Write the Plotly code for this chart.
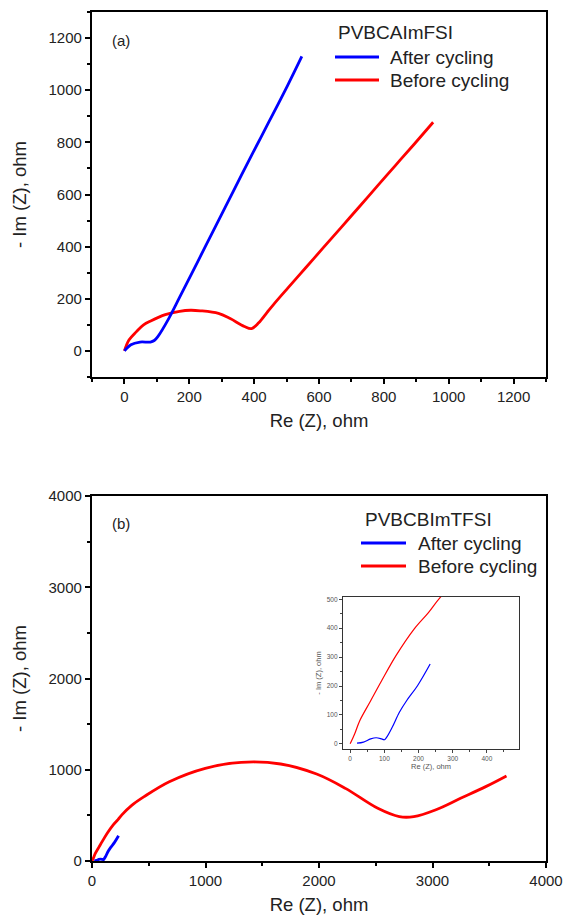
import plotly.graph_objects as go

# Panel (a): PVBCAImFSI Nyquist data (Re Z, -Im Z), ohm
a_after_re = [0, 20, 48, 80, 92, 103, 137, 170, 225, 281, 336, 392, 447, 503, 547]
a_after_im = [0, 24, 34, 34, 40, 55, 125, 205, 340, 478, 613, 750, 882, 1018, 1130]
a_before_re = [0, 14, 37, 59, 81, 126, 170, 204, 234, 290, 326, 370, 392, 414, 440, 459,
               503, 559, 614, 670, 725, 781, 836, 892, 952]
a_before_im = [0, 42, 74, 100, 115, 139, 152, 156, 154, 144, 124, 94, 86, 108, 148, 177,
               240, 319, 397, 476, 554, 634, 712, 791, 877]

# Panel (b): PVBCBImTFSI Nyquist data
b_after_re = [20, 39, 60, 76, 92, 100, 107, 123, 144, 165, 197, 234]
b_after_im = [2, 6, 17, 21, 17, 14, 23, 57, 109, 149, 201, 276]
b_before_re = [0, 13, 28, 60, 92, 134, 187, 229, 263, 350, 459, 681, 998, 1314, 1662, 1979,
               2233, 2518, 2708, 2835, 3025, 3247, 3469, 3652]
b_before_im = [0, 34, 80, 149, 218, 305, 397, 454, 506, 610, 705, 869, 1016, 1081, 1063, 953,
               796, 577, 486, 486, 559, 687, 815, 932]

# Legend content for each panel
series_names = ["After cycling", "Before cycling"]
legend_titles = ["PVBCAImFSI", "PVBCBImTFSI"]
panel_tags = ["(a)", "(b)"]

BLUE = "#0000ff"
RED = "#ff0000"
SERIES_COLORS = [BLUE, RED]
FONT = "Liberation Sans, Arial, sans-serif"
INK = "#222222"
W, H = 564, 918


def px_x(p):
    return p / W


def px_y(p):
    return 1 - p / H


def curve(xs, ys, name, color, width, xa, ya):
    return go.Scatter(
        x=xs, y=ys, mode="lines", name=name, showlegend=False,
        line=dict(color=color, width=width, shape="spline", smoothing=1.0),
        xaxis=xa, yaxis=ya,
    )


fig = go.Figure()

# Panel (a)
fig.add_trace(curve(a_before_re, a_before_im, series_names[1], RED, 2.8, "x", "y"))
fig.add_trace(curve(a_after_re, a_after_im, series_names[0], BLUE, 2.8, "x", "y"))

# Panel (b)
fig.add_trace(curve(b_before_re, b_before_im, series_names[1], RED, 2.8, "x2", "y2"))
fig.add_trace(curve(b_after_re, b_after_im, series_names[0], BLUE, 2.8, "x2", "y2"))

# Inset of panel (b): low-impedance region
fig.add_trace(curve(b_before_re, b_before_im, series_names[1], RED, 1.2, "x3", "y3"))
fig.add_trace(curve(b_after_re, b_after_im, series_names[0], BLUE, 1.2, "x3", "y3"))

tickfont = dict(family=FONT, size=15, color=INK)
titlefont = dict(family=FONT, size=18.5, color=INK)


def main_axis(domain, rng, dtick, minor, title, anchor, standoff):
    return dict(domain=domain, range=rng, dtick=dtick, tick0=0, anchor=anchor,
                automargin=False,
                showline=True, linecolor="black", linewidth=2.2, mirror=True,
                ticks="outside", ticklen=5, tickwidth=1.6, tickcolor="black",
                minor=dict(ticks="outside", dtick=minor, tick0=0, ticklen=3,
                           tickwidth=1.6, tickcolor="black"),
                showgrid=False, zeroline=False, tickfont=tickfont,
                title=dict(text=title, font=titlefont, standoff=standoff))


def inset_axis(domain, rng, dtick, minor, title, anchor, standoff):
    return dict(domain=domain, range=rng, dtick=dtick, tick0=0, anchor=anchor,
                automargin=False,
                showline=True, linecolor="#333", linewidth=1.3, mirror=True,
                ticks="outside", ticklen=3, tickwidth=0.8, tickcolor="#444",
                minor=dict(ticks="outside", dtick=minor, tick0=0, ticklen=2,
                           tickwidth=0.8, tickcolor="#444"),
                showgrid=False, zeroline=False,
                tickfont=dict(family=FONT, size=6.5, color="#555"),
                title=dict(text=title, font=dict(family=FONT, size=7.5, color="#555"),
                           standoff=standoff))


legend_font = dict(family=FONT, size=19, color=INK)

# Legend blocks drawn in page pixels: (title_x, title_y, line_x0, line_x1, text_x, row_ys)
legend_blocks = [
    (336, 33, 335, 379, 388, [57, 80]),
    (363, 519, 361, 406, 416, [543, 566]),
]

annotations = []
shapes = []
for title, (tx, ty, lx0, lx1, txt_x, rows) in zip(legend_titles, legend_blocks):
    annotations.append(dict(text=title, x=px_x(tx), y=px_y(ty), xref="paper", yref="paper",
                            xanchor="left", yanchor="middle", showarrow=False,
                            font=legend_font))
    for name, color, ry in zip(series_names, SERIES_COLORS, rows):
        shapes.append(dict(type="line", xref="paper", yref="paper",
                           x0=px_x(lx0), x1=px_x(lx1), y0=px_y(ry), y1=px_y(ry),
                           line=dict(color=color, width=3)))
        annotations.append(dict(text=name, x=px_x(txt_x), y=px_y(ry), xref="paper",
                                yref="paper", xanchor="left", yanchor="middle",
                                showarrow=False, font=legend_font))

for tag, ty in zip(panel_tags, [40, 523]):
    annotations.append(dict(text=tag, x=px_x(110), y=px_y(ty), xref="paper", yref="paper",
                            xanchor="left", yanchor="middle", showarrow=False,
                            font=dict(family=FONT, size=15, color=INK)))

fig.update_layout(
    width=W, height=H,
    margin=dict(l=0, r=0, t=0, b=0, autoexpand=False),
    paper_bgcolor="white", plot_bgcolor="white",
    showlegend=False,
    xaxis=main_axis([px_x(92), px_x(546)], [-100, 1300], 200, 100, "Re (Z), ohm", "y", 10),
    yaxis=main_axis([px_y(377), px_y(12)], [-100, 1300], 200, 100, "- Im (Z), ohm", "x", 17),
    xaxis2=main_axis([px_x(92), px_x(546)], [0, 4000], 1000, 500, "Re (Z), ohm", "y2", 10),
    yaxis2=main_axis([px_y(861), px_y(496)], [0, 4000], 1000, 500, "- Im (Z), ohm", "x2", 17),
    xaxis3=inset_axis([px_x(343), px_x(519)], [-21, 494], 100, 50, "Re (Z), ohm", "y3", 2),
    yaxis3=inset_axis([px_y(749), px_y(597)], [-18, 508], 100, 50, "- Im (Z), ohm", "x3", 4),
    annotations=annotations,
    shapes=shapes,
)

fig.write_html("out.html")
